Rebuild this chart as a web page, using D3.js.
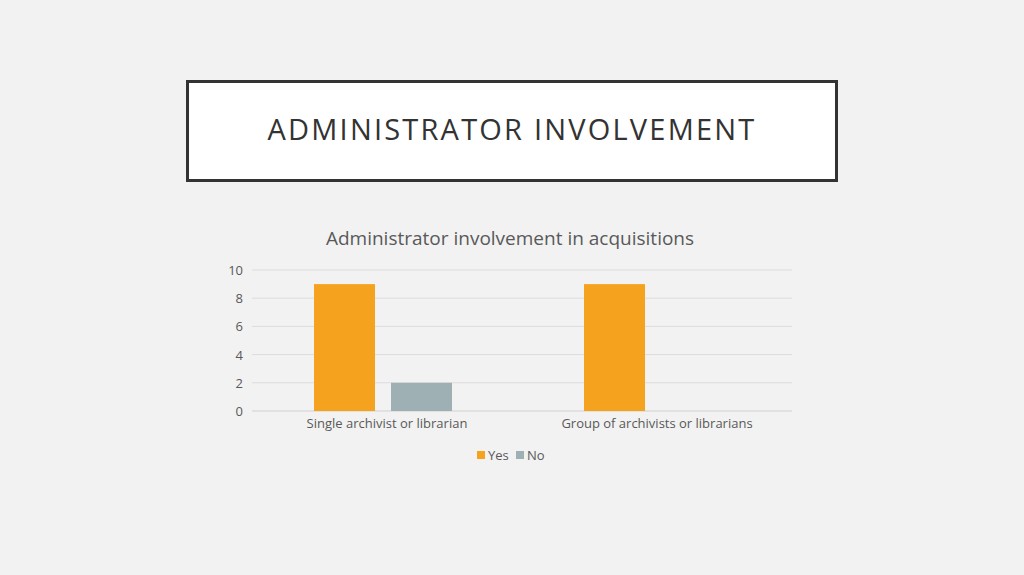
<!DOCTYPE html>
<html><head><meta charset="utf-8">
<script src="https://cdn.jsdelivr.net/npm/d3@7"></script>
<style>body{margin:0;background:#f2f2f2;}svg{display:block;font-family:"Open Sans","Noto Sans",sans-serif;}</style>
</head><body>
<svg id="c" width="1024" height="575"></svg>
<script>
const categories = ["Single archivist or librarian","Group of archivists or librarians"];
const seriesNames = ["Yes","No"];
const yesValues = [9,9];
const noValues = [2,0];
const yTicks = [0,2,4,6,8,10];
const colors = {Yes:"#f5a31f", No:"#9fb0b5"};

const svg = d3.select("#c");
svg.append("rect").attr("width",1024).attr("height",575).attr("fill","#f2f2f2");
svg.append("rect").attr("x",187.5).attr("y",81.5).attr("width",649).attr("height",99)
  .attr("fill","#fff").attr("stroke","#333").attr("stroke-width",3);
svg.append("text").attr("x",512).attr("y",140).attr("text-anchor","middle")
  .attr("font-size",29).attr("letter-spacing",2.2).attr("fill","#333").text("ADMINISTRATOR INVOLVEMENT");
svg.append("text").attr("x",510).attr("y",245).attr("text-anchor","middle")
  .attr("font-size",19).attr("fill","#595959").text("Administrator involvement in acquisitions");

const L=252,R=792,T=270,B=411;
const y = d3.scaleLinear().domain([0,10]).range([B,T]);
const x0 = d3.scaleBand().domain(categories).range([L,R]);
const x1 = d3.scaleBand().domain(seriesNames).range([62,200]).paddingInner(0.208);
const g = svg.append("g");
yTicks.forEach(t=>{
  g.append("line").attr("x1",L).attr("x2",R).attr("y1",y(t)).attr("y2",y(t))
   .attr("stroke",t===0?"#d0d0d0":"#dcdcdc").attr("stroke-width",1);
  g.append("text").attr("x",243).attr("y",y(t)+5).attr("text-anchor","end")
   .attr("font-size",13).attr("fill","#595959").text(t);
});
const data = categories.map((c,i)=>({c, Yes:yesValues[i], No:noValues[i]}));
data.forEach(d=>{
  seriesNames.forEach(s=>{
    if(d[s]>0) g.append("rect").attr("x",x0(d.c)+x1(s)).attr("width",x1.bandwidth())
      .attr("y",y(d[s])).attr("height",y(0)-y(d[s])).attr("fill",colors[s]);
  });
  g.append("text").attr("x",x0(d.c)+x0.bandwidth()/2).attr("y",428).attr("text-anchor","middle")
   .attr("font-size",13).attr("fill","#595959").text(d.c);
});
const lg = svg.append("g");
[["Yes",477],["No",516]].forEach(([s,xx])=>{
  lg.append("rect").attr("x",xx).attr("y",451).attr("width",8).attr("height",8).attr("fill",colors[s]);
  lg.append("text").attr("x",xx+11).attr("y",459.5).attr("font-size",13).attr("fill","#595959").text(s);
});
</script></body></html>
